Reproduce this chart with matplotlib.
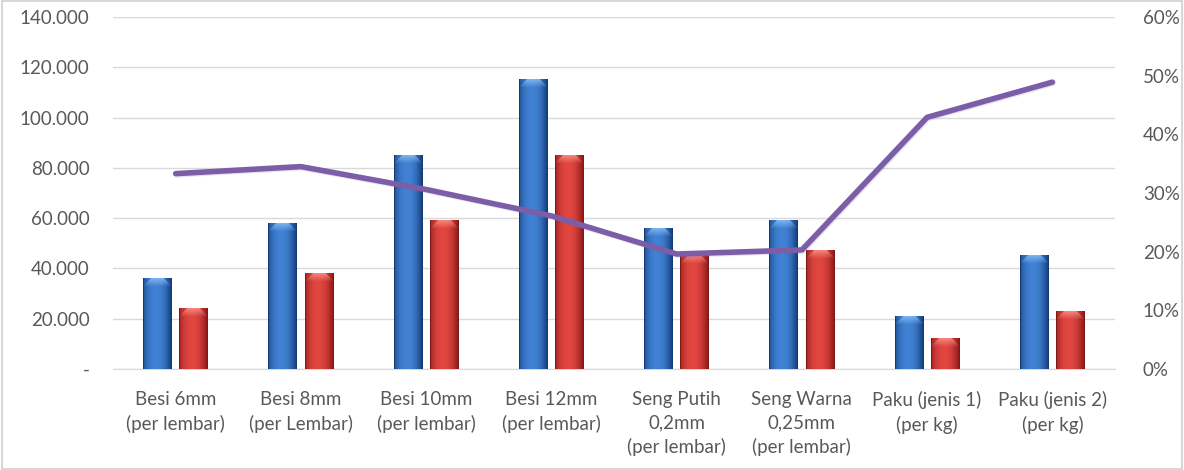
import numpy as np
import matplotlib.pyplot as plt
import matplotlib.patheffects as pe
from matplotlib.ticker import FuncFormatter, MultipleLocator
from matplotlib.patches import Rectangle

plt.rcParams['font.family'] = ['Lato', 'DejaVu Sans']

# data
kategori = ['Besi 6mm\n(per lembar)', 'Besi 8mm\n(per Lembar)', 'Besi 10mm\n(per lembar)',
            'Besi 12mm\n(per lembar)', 'Seng Putih\n0,2mm\n(per lembar)',
            'Seng Warna\n0,25mm\n(per lembar)', 'Paku (jenis 1)\n(per kg)', 'Paku (jenis 2)\n(per kg)']
harga_jual = [36000, 58000, 85000, 115000, 56000, 59000, 21000, 45000]
harga_beli = [24000, 38000, 59000, 85000, 45000, 47000, 12000, 23000]
margin_pct = [33.3, 34.5, 30.6, 26.1, 19.6, 20.3, 42.9, 48.9]

TEXT = '#595959'
GRID = '#d9d9d9'
YMAX = 140000


def bar_image(n_x, n_y, dark, mid, light, cap_px=8):
    """Cylinder-like shading with a bevelled lighter top."""
    dark, mid, light = (np.array(c) / 255.0 for c in (dark, mid, light))
    u = np.linspace(-1, 1, n_x)
    w = np.clip(1 - np.abs(u + 0.1) ** 2.2, 0, 1)  # brightness across the bar
    row = dark[None, :] * (1 - w[:, None]) + mid[None, :] * w[:, None]
    img = np.repeat(row[None, :, :], n_y, axis=0)
    cap = min(cap_px, n_y)
    for r in range(cap):
        inset = cap - r  # bevel narrows toward the top edge
        t = 0.7 * (1 - r / max(cap, 1))
        sl = slice(inset, n_x - inset)
        img[r, sl] = img[r, sl] * (1 - t) + light * t
    img[:, 0] = dark * 0.8
    img[:, -1] = dark * 0.8
    return img


fig = plt.figure(figsize=(11.84, 4.70), dpi=100)
ax = fig.add_axes([113 / 1184, 1 - 369 / 470, 1002 / 1184, 352 / 470])
ax2 = ax.twinx()

x = np.arange(len(kategori))
bw = 0.23
off = 0.145
b1 = ax.bar(x - off, harga_jual, bw, color='#3a78c6', zorder=2)
b2 = ax.bar(x + off, harga_beli, bw, color='#d23a36', zorder=2)

px_per_unit = 352 / YMAX
styles = [(b1, (25, 70, 135), (65, 130, 212), (150, 200, 250)),
          (b2, (150, 30, 28), (225, 70, 64), (252, 160, 150))]
for bars, dark, mid, light in styles:
    for rect in bars:
        h = rect.get_height()
        ny = max(int(round(h * px_per_unit)), 2)
        img = bar_image(30, ny, dark, mid, light)
        x0 = rect.get_x()
        ax.imshow(img, extent=(x0, x0 + rect.get_width(), 0, h), aspect='auto',
                  origin='upper', zorder=3, interpolation='bilinear')

ax.set_xlim(-0.5, len(kategori) - 0.5)
ax.set_ylim(0, YMAX)
ax.yaxis.set_major_locator(MultipleLocator(20000))
ax.yaxis.set_major_formatter(FuncFormatter(
    lambda v, p: '-' if v == 0 else f'{int(v):,}'.replace(',', '.')))
ax.grid(axis='y', color=GRID, linewidth=1, zorder=0)
ax.set_axisbelow(True)
ax.set_xticks(x)
ax.set_xticklabels(kategori, linespacing=1.45)

ax2.plot(x, margin_pct, color='#7b5ea7', linewidth=4.0, solid_capstyle='round',
         solid_joinstyle='round', zorder=5,
         path_effects=[pe.SimpleLineShadow(offset=(0.8, -0.8), alpha=0.18, shadow_color='#7b5ea7'),
                       pe.Normal()])
ax2.set_ylim(0, 60)
ax2.yaxis.set_major_locator(MultipleLocator(10))
ax2.yaxis.set_major_formatter(FuncFormatter(lambda v, p: f'{int(v)}%'))
ax2.set_zorder(ax.get_zorder() + 1)
ax2.patch.set_visible(False)

for a in (ax, ax2):
    for s in a.spines.values():
        s.set_visible(False)
    a.tick_params(length=0, colors=TEXT, labelsize=13.5)
ax.spines['bottom'].set_visible(True)
ax.spines['bottom'].set_color(GRID)
ax.tick_params(axis='y', pad=17)
ax.tick_params(axis='x', pad=16)
ax2.tick_params(axis='y', pad=20)

fig.patches.append(Rectangle((0.002, 0.002), 0.996, 0.996, transform=fig.transFigure,
                             fill=False, edgecolor='#d0d0d0', linewidth=1.2))

fig.savefig('out.png', dpi=100)
